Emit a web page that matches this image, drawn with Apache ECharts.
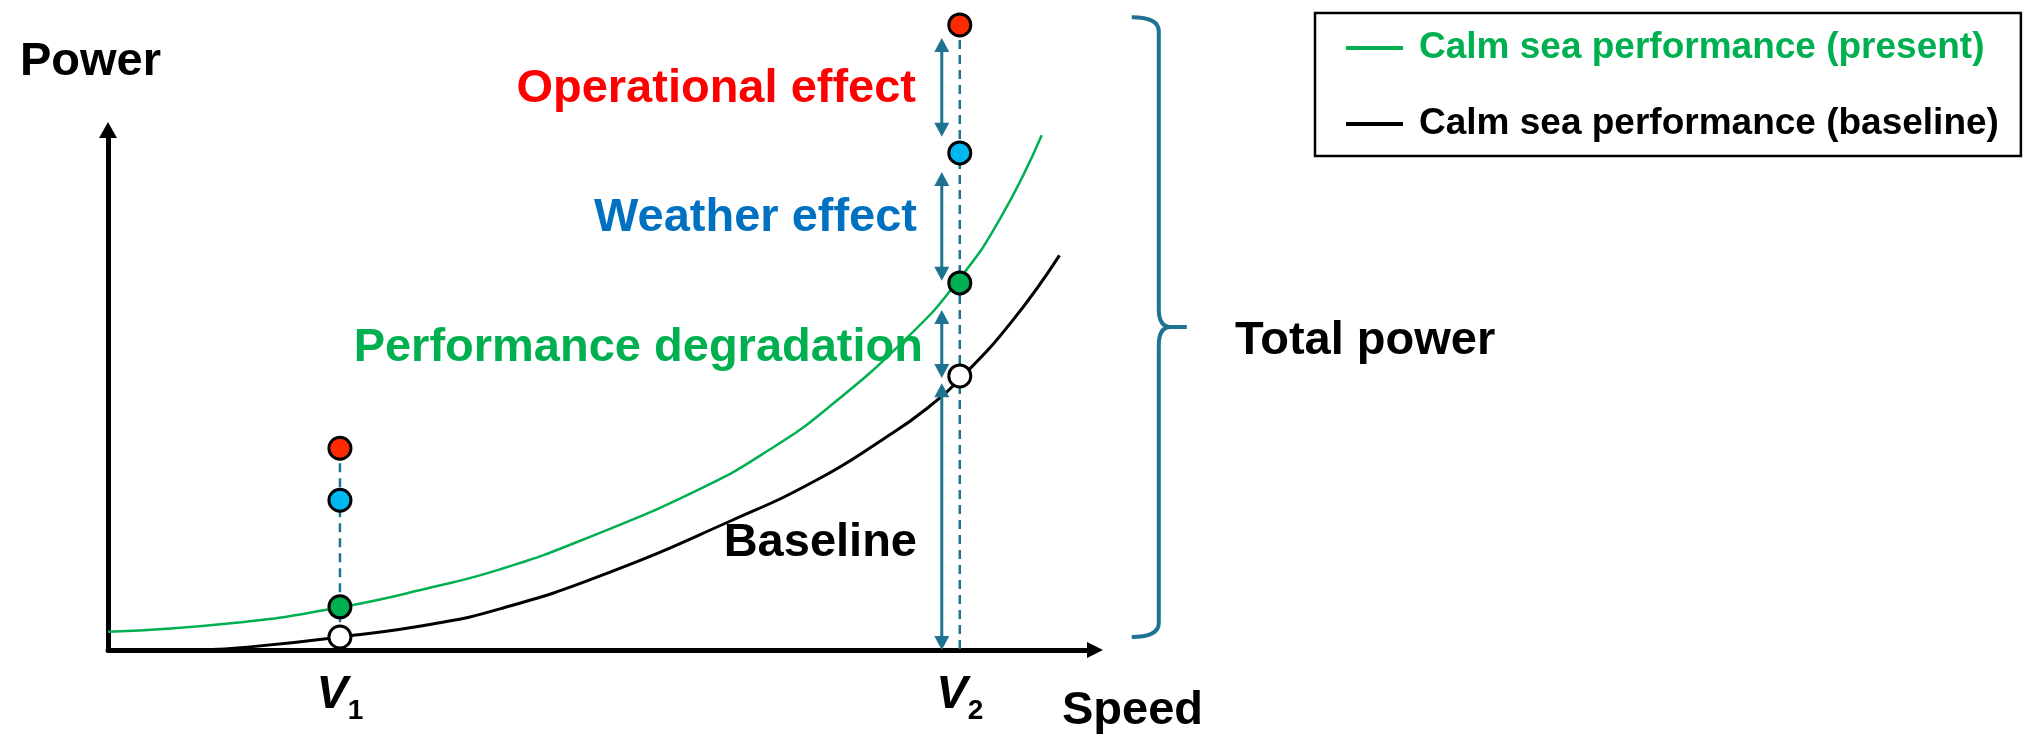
<!DOCTYPE html>
<html>
<head>
<meta charset="utf-8">
<title>Power vs speed</title>
<script src="https://cdn.jsdelivr.net/npm/echarts@6/dist/echarts.min.js"></script>
<style>
  html, body { margin: 0; padding: 0; background: #fff; }
  #chart { width: 2037px; height: 736px; }
</style>
</head>
<body>
<div id="chart"></div>
<script>
// speed / power in arbitrary units
const speedPresent = [0, 1.27, 2.35, 3.29, 3.97, 4.81, 6.0, 6.7, 7.29, 8.12, 8.62, 9.04, 9.46];
const powerPresent = [3.5, 5.2, 8.2, 12.1, 15.5, 21.2, 31.0, 38.5, 46.5, 60.5, 71.2, 83.0, 99.0];
const speedBaseline = [0.93, 1.44, 2.35, 3.29, 3.97, 4.98, 6.33, 7.18, 7.85, 8.3, 8.65, 9.15, 9.64];
const powerBaseline = [0, 0.6, 2.5, 5.0, 7.9, 14.2, 25.0, 32.7, 40.5, 46.5, 52.5, 63.0, 75.9];

const V1 = 2.35;
const V2 = 8.63;
const tickLabels = ['1', '2'];
// operational, weather, calm sea (present), calm sea (baseline)
const pointsV1 = [38.8, 28.8, 8.3, 2.5];
const pointsV2 = [120.2, 95.6, 70.6, 52.7];
const pointColors = ['#FF2A00', '#00B8F0', '#00B050', '#FFFFFF'];
// double arrows next to V2, [top, bottom]
const arrowSpans = [[117.7, 98.7], [91.9, 71.0], [65.4, 52.3], [51.3, 0]];
const braceSpan = [121.7, 2.5];
const seriesNames = ['Calm sea performance (present)', 'Calm sea performance (baseline)'];

const TEAL = '#1E7393';
const FAMILY = "'Liberation Sans', Arial, sans-serif";
const BIG = 'bold 47px ' + FAMILY;

const zip = (xs, ys) => xs.map((x, i) => [x, ys[i]]);

function renderArrow(params, api) {
  const top = api.coord([api.value(0), api.value(1)]);
  const bot = api.coord([api.value(0), api.value(2)]);
  const x = top[0] - 18;
  const hw = 7.5, hl = 14;
  return {
    type: 'group',
    children: [
      { type: 'line', shape: { x1: x, y1: top[1] + hl - 1, x2: x, y2: bot[1] - hl + 1 }, style: { stroke: TEAL, lineWidth: 3 } },
      { type: 'polygon', shape: { points: [[x, top[1]], [x - hw, top[1] + hl], [x + hw, top[1] + hl]] }, style: { fill: TEAL } },
      { type: 'polygon', shape: { points: [[x, bot[1]], [x - hw, bot[1] - hl], [x + hw, bot[1] - hl]] }, style: { fill: TEAL } }
    ]
  };
}

// curly brace to the right of V2
function renderBrace(params, api) {
  const top = api.coord([api.value(0), api.value(1)]);
  const bot = api.coord([api.value(0), api.value(2)]);
  const x0 = top[0] + 172, xl = top[0] + 199, xt = top[0] + 227;
  const t = top[1], b = bot[1], m = (t + b) / 2;
  const d = 'M' + x0 + ',' + t + ' Q' + xl + ',' + t + ' ' + xl + ',' + (t + 14) +
    ' L' + xl + ',' + (m - 18) + ' Q' + xl + ',' + m + ' ' + (xl + 12) + ',' + m +
    ' L' + xt + ',' + m + ' L' + (xl + 12) + ',' + m +
    ' Q' + xl + ',' + m + ' ' + xl + ',' + (m + 18) +
    ' L' + xl + ',' + (b - 14) + ' Q' + xl + ',' + b + ' ' + x0 + ',' + b;
  return { type: 'path', shape: { pathData: d }, style: { stroke: TEAL, lineWidth: 4, fill: null } };
}

const chart = echarts.init(document.getElementById('chart'));

const pointData = [];
pointsV1.forEach((y, i) => pointData.push({ value: [V1, y], itemStyle: { color: pointColors[i] } }));
pointsV2.forEach((y, i) => pointData.push({ value: [V2, y], itemStyle: { color: pointColors[i] } }));

const option = {
  animation: false,
  backgroundColor: '#fff',
  grid: { left: 108, top: 130, right: 942, bottom: 86 },
  legend: {
    data: [
      { name: seriesNames[0], textStyle: { color: '#00B050' } },
      { name: seriesNames[1], textStyle: { color: '#000' } }
    ],
    orient: 'vertical',
    left: 1315,
    top: 13,
    icon: 'rect',
    itemWidth: 57,
    itemHeight: 4,
    itemGap: 26,
    padding: [10, 22, 7, 31],
    borderColor: '#000',
    borderWidth: 2.5,
    textStyle: { fontSize: 37, fontWeight: 'bold', fontFamily: FAMILY, lineHeight: 50, padding: [0, 0, 0, 11] }
  },
  xAxis: {
    type: 'value',
    min: 0,
    max: 10,
    splitLine: { show: false },
    axisTick: { show: false },
    axisLine: { symbol: ['none', 'triangle'], symbolSize: [16, 16], lineStyle: { color: '#000', width: 5 } },
    axisLabel: {
      customValues: [V1, V2],
      margin: 15,
      color: '#000',
      formatter: v => '{v|V}{s|' + tickLabels[[V1, V2].indexOf(v)] + '}',
      rich: {
        v: { fontSize: 47, fontStyle: 'italic', fontWeight: 'bold', fontFamily: FAMILY, lineHeight: 60, color: '#000' },
        s: { fontSize: 28, fontWeight: 'bold', fontFamily: FAMILY, lineHeight: 22, verticalAlign: 'bottom', color: '#000' }
      }
    }
  },
  yAxis: {
    type: 'value',
    min: 0,
    max: 100,
    splitLine: { show: false },
    axisTick: { show: false },
    axisLabel: { show: false },
    axisLine: { symbol: ['none', 'triangle'], symbolSize: [18, 16], lineStyle: { color: '#000', width: 5 } }
  },
  graphic: [
    { type: 'text', x: 20, y: 62, style: { text: 'Power', font: BIG, fill: '#000', align: 'left', verticalAlign: 'middle' } },
    { type: 'text', x: 1062, y: 711, style: { text: 'Speed', font: BIG, fill: '#000', align: 'left', verticalAlign: 'middle' } },
    { type: 'text', x: 916, y: 89, style: { text: 'Operational effect', font: BIG, fill: '#FF0000', align: 'right', verticalAlign: 'middle' } },
    { type: 'text', x: 917, y: 218, style: { text: 'Weather effect', font: BIG, fill: '#0070C0', align: 'right', verticalAlign: 'middle' } },
    { type: 'text', x: 923, y: 348, style: { text: 'Performance degradation', font: BIG, fill: '#00B050', align: 'right', verticalAlign: 'middle' } },
    { type: 'text', x: 917, y: 543, style: { text: 'Baseline', font: BIG, fill: '#000', align: 'right', verticalAlign: 'middle' } },
    { type: 'text', x: 1235, y: 341, style: { text: 'Total power', font: BIG, fill: '#000', align: 'left', verticalAlign: 'middle' } }
  ],
  series: [
    {
      name: 'V1 guide',
      type: 'line',
      data: [[V1, pointsV1[0]], [V1, pointsV1[3]]],
      symbol: 'none',
      lineStyle: { color: TEAL, width: 2.5, type: [9, 6] },
      clip: false,
      z: 2
    },
    {
      name: 'V2 guide',
      type: 'line',
      data: [[V2, pointsV2[0]], [V2, 0]],
      symbol: 'none',
      lineStyle: { color: TEAL, width: 2.5, type: [9, 6] },
      clip: false,
      z: 2
    },
    {
      name: seriesNames[0],
      type: 'line',
      data: zip(speedPresent, powerPresent),
      symbol: 'none',
      smooth: 0.5,
      color: '#00B050',
      lineStyle: { color: '#00B050', width: 2.5 },
      clip: false,
      z: 3
    },
    {
      name: seriesNames[1],
      type: 'line',
      data: zip(speedBaseline, powerBaseline),
      symbol: 'none',
      smooth: 0.5,
      color: '#000',
      lineStyle: { color: '#000', width: 3 },
      clip: false,
      z: 3
    },
    {
      name: 'points',
      type: 'scatter',
      data: pointData,
      symbol: 'circle',
      symbolSize: 22,
      itemStyle: { borderColor: '#000', borderWidth: 3, opacity: 1 },
      clip: false,
      z: 5
    },
    {
      name: 'arrows',
      type: 'custom',
      data: arrowSpans.map(s => [V2, s[0], s[1]]),
      encode: { x: 0, y: [1, 2] },
      renderItem: renderArrow,
      z: 4
    },
    {
      name: 'brace',
      type: 'custom',
      data: [[V2, braceSpan[0], braceSpan[1]]],
      encode: { x: 0, y: [1, 2] },
      renderItem: renderBrace,
      z: 4
    }
  ]
};

chart.setOption(option);
window.onresize = function() {
  chart.resize();
};
</script>
</body>
</html>
